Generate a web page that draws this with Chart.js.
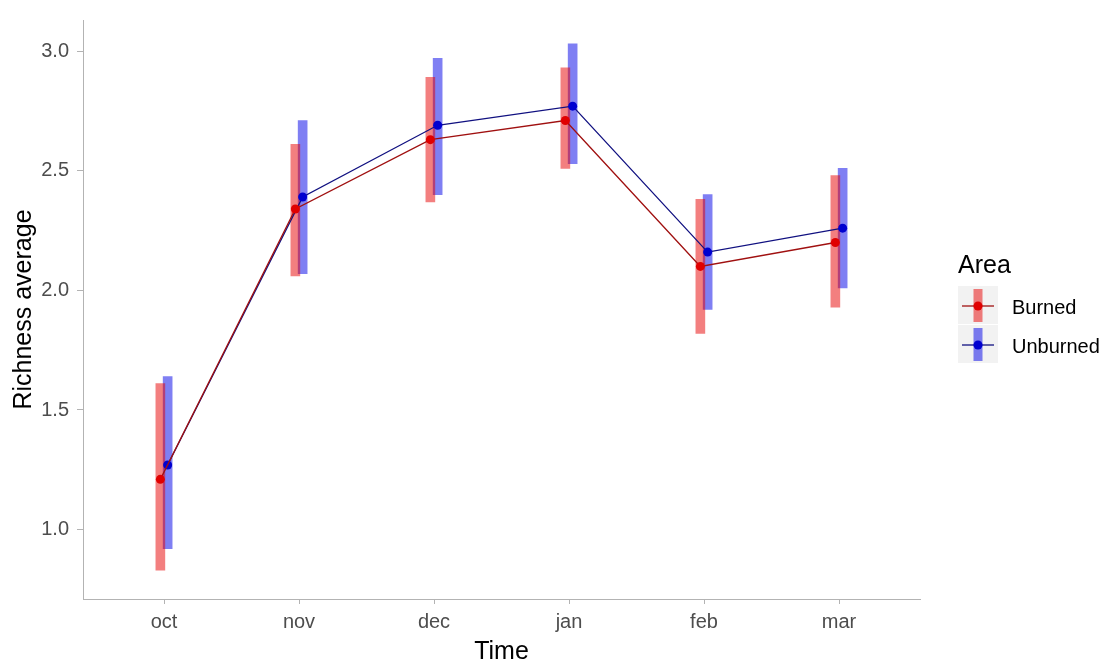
<!DOCTYPE html>
<html>
<head>
<meta charset="utf-8">
<script src="https://cdn.jsdelivr.net/npm/chart.js@4.4.0/dist/chart.umd.min.js"></script>
<style>
    html, body { margin: 0; padding: 0; background: #fff; }
    #wrap { width: 1116px; height: 670px; position: relative; }
</style>
</head>
<body>
<div id="wrap"><canvas id="richnessChart"></canvas></div>
<script>
// data
const months = ['oct', 'nov', 'dec', 'jan', 'feb', 'mar'];
const burnedMean = [1.21, 2.34, 2.63, 2.71, 2.10, 2.20];
const burnedLow = [0.83, 2.06, 2.37, 2.51, 1.82, 1.93];
const burnedHigh = [1.61, 2.61, 2.89, 2.93, 2.38, 2.48];
const unburnedMean = [1.27, 2.39, 2.69, 2.77, 2.16, 2.26];
const unburnedLow = [0.92, 2.07, 2.40, 2.53, 1.92, 2.01];
const unburnedHigh = [1.64, 2.71, 2.97, 3.03, 2.40, 2.51];
const yTicks = [1.0, 1.5, 2.0, 2.5, 3.0];

const FONT = '"Liberation Sans", Arial, sans-serif';
const dodge = 0.027;

const areas = [
    { label: 'Burned', mean: burnedMean, low: burnedLow, high: burnedHigh, shift: -dodge,
      bar: 'rgba(232, 0, 0, 0.5)', line: '#A01010', point: '#E00000' },
    { label: 'Unburned', mean: unburnedMean, low: unburnedLow, high: unburnedHigh, shift: dodge,
      bar: 'rgba(0, 0, 232, 0.5)', line: '#101080', point: '#0000D0' }
];

const datasets = [];
areas.forEach(a => {
    datasets.push({
        type: 'bar',
        label: a.label + ' range',
        data: months.map((m, i) => ({ x: i + a.shift, y: [a.low[i], a.high[i]] })),
        backgroundColor: a.bar,
        borderWidth: 0,
        barThickness: 9,
        grouped: false,
        order: 2
    });
});
areas.forEach(a => {
    datasets.push({
        type: 'line',
        label: a.label,
        data: months.map((m, i) => ({ x: i + a.shift, y: a.mean[i] })),
        borderColor: a.line,
        borderWidth: 1.3,
        pointRadius: 4.5,
        pointBackgroundColor: a.point,
        pointBorderWidth: 0,
        tension: 0,
        order: 1
    });
});

// ggplot style legend on the right
const areaLegend = {
    id: 'areaLegend',
    afterDraw(chart) {
        const ctx = chart.ctx;
        ctx.save();
        ctx.fillStyle = '#000';
        ctx.font = '25px ' + FONT;
        ctx.textBaseline = 'middle';
        ctx.textAlign = 'left';
        ctx.fillText('Area', 958, 266);

        areas.forEach((a, i) => {
            const top = 286 + i * 39;
            const cx = 978;
            const cy = top + 20;
            ctx.fillStyle = '#F2F2F2';
            ctx.fillRect(958, top, 40, 38);
            ctx.fillStyle = a.bar;
            ctx.fillRect(cx - 4.5, top + 3, 9, 33);
            ctx.strokeStyle = a.line;
            ctx.lineWidth = 1.3;
            ctx.beginPath();
            ctx.moveTo(962, cy);
            ctx.lineTo(994, cy);
            ctx.stroke();
            ctx.fillStyle = a.point;
            ctx.beginPath();
            ctx.arc(cx, cy, 4.5, 0, Math.PI * 2);
            ctx.fill();
            ctx.fillStyle = '#000';
            ctx.font = '20px ' + FONT;
            ctx.fillText(a.label, 1012, cy + 2);
        });
        ctx.restore();
    }
};

new Chart(document.getElementById('richnessChart'), {
    data: { datasets: datasets },
    options: {
        responsive: true,
        maintainAspectRatio: false,
        animation: false,
        layout: { padding: { top: 15, right: 196, bottom: 0, left: 0 } },
        plugins: {
            legend: { display: false },
            tooltip: { enabled: false }
        },
        scales: {
            x: {
                type: 'linear',
                min: -0.6,
                max: 5.6,
                offset: false,
                afterBuildTicks: s => { s.ticks = months.map((m, i) => ({ value: i })); },
                afterFit: s => { s.height = 71; },
                ticks: {
                    callback: v => months[v],
                    color: '#4D4D4D',
                    font: { family: FONT, size: 20 },
                    padding: 6,
                    maxRotation: 0
                },
                grid: { drawOnChartArea: false, offset: false, tickLength: 5, tickColor: '#B3B3B3' },
                border: { display: true, color: '#B3B3B3', width: 1 },
                title: {
                    display: true,
                    text: 'Time',
                    color: '#000',
                    font: { family: FONT, size: 25 },
                    padding: { top: 0, bottom: 3 }
                }
            },
            y: {
                type: 'linear',
                min: 0.71,
                max: 3.13,
                beginAtZero: false,
                afterBuildTicks: s => { s.ticks = yTicks.map(v => ({ value: v })); },
                afterFit: s => { s.width = 83; },
                ticks: {
                    callback: v => v.toFixed(1),
                    color: '#4D4D4D',
                    font: { family: FONT, size: 20 },
                    padding: 8
                },
                grid: { drawOnChartArea: false, tickLength: 6, tickColor: '#B3B3B3' },
                border: { display: true, color: '#B3B3B3', width: 1 },
                title: {
                    display: true,
                    text: 'Richness average',
                    color: '#000',
                    font: { family: FONT, size: 25 },
                    padding: { top: 9, bottom: 0 }
                }
            }
        }
    },
    plugins: [areaLegend]
});
</script>
</body>
</html>
